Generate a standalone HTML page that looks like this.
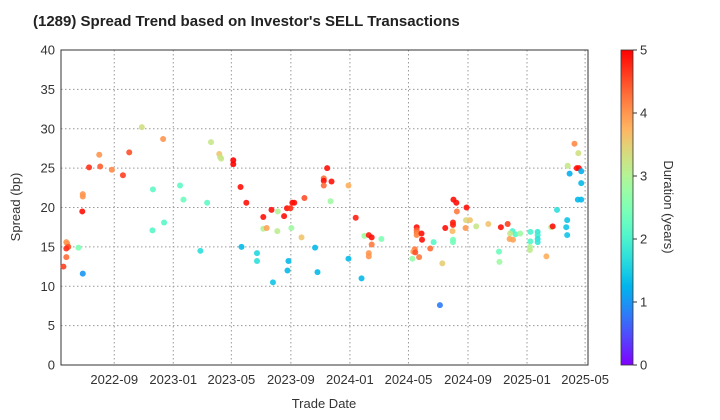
<!DOCTYPE html>
<html><head><meta charset="utf-8"><style>
body{margin:0;background:#fff;font-family:"Liberation Sans",sans-serif}
svg{display:block}
</style></head><body>
<svg id="chart" width="720" height="420">
<defs><linearGradient id="cb" x1="0" y1="1" x2="0" y2="0"></linearGradient></defs>
<text x="33" y="26" font-size="15" font-weight="bold" fill="#222">(1289)   Spread Trend based on Investor's SELL Transactions</text>
<text x="324" y="408" font-size="13" fill="#333" text-anchor="middle">Trade Date</text>
<text transform="translate(20,207) rotate(-90)" font-size="13" fill="#333" text-anchor="middle">Spread (bp)</text>
<text transform="translate(664,207) rotate(90)" font-size="13" fill="#333" text-anchor="middle">Duration (years)</text>
</svg>
<script>
const tradeDays=[57,101,200,217,219,221,31,-31,-52,-29,-5,18,80,136,143,192,-65,-65,-66,103,79,-99,-97,-95,-99,-74,-99,-105,-65,178,246,246,
261,273,325,338,308,351,357,364,368,372,393,440,433,433,433,449,484,447,499,308,315,337,366,387,517,263,295,295,360,358,328,415,420,484,511,
526,532,532,526,526,552,625,625,625,625,635,636,621,618,622,616,630,653,660,678,673,701,707,708,728,700,700,684,699,700,700,727,735,726,748,773,
951,959,937,956,960,941,965,965,958,965,915,936,934,936,903,906,799,813,823,829,818,839,817,824,795,796,860,875,875,875,875,860,859,859,893];
const spreads=[30.2,28.7,28.3,26.8,26.4,26.2,27.0,26.7,25.1,25.2,24.8,24.1,22.3,22.8,21.0,20.6,21.7,21.4,19.5,18.1,17.1,15.6,15.4,15.0,14.8,14.9,13.7,12.5,11.6,14.5,26.0,25.5,
22.6,20.6,19.7,19.5,18.8,18.9,19.9,19.9,20.6,20.6,21.2,25.0,23.7,23.4,22.8,23.3,22.8,20.8,18.7,17.3,17.4,17.0,17.4,16.2,16.4,15.0,14.2,13.2,13.2,12.0,10.5,14.9,11.8,13.5,11.0,
16.5,16.2,15.3,14.2,13.8,16.0,17.5,17.1,16.8,16.5,16.7,15.9,14.7,14.4,14.3,13.5,13.7,14.8,15.6,12.9,7.6,21.0,20.6,19.5,20.0,18.1,17.8,17.4,17.0,15.9,15.6,18.4,18.4,17.4,17.6,17.9,
28.1,26.9,25.3,25.0,25.0,24.3,24.6,23.1,21.0,21.0,19.7,18.4,17.5,16.5,17.5,17.6,17.5,17.9,17.0,16.6,16.7,16.7,16.0,15.9,14.4,13.1,16.9,16.9,16.5,16.0,15.6,15.7,15.0,14.6,13.8];
const durations=[3.3,4.0,3.2,3.6,3.3,3.2,4.5,4.0,4.7,4.4,4.1,4.6,2.2,2.2,2.3,2.2,4.0,4.0,4.9,2.1,2.1,4.0,4.0,4.5,4.7,2.5,4.3,4.6,1.0,1.7,5.0,5.0,
4.9,4.9,4.9,3.0,4.9,4.9,4.9,4.7,4.9,4.9,4.5,4.9,4.3,4.9,4.3,4.9,3.8,2.8,4.8,3.0,3.9,3.1,2.8,3.6,2.8,1.3,1.6,1.7,1.3,1.3,1.4,1.3,1.3,1.3,1.3,
4.8,4.9,4.2,4.0,4.0,2.5,4.9,4.4,4.2,4.1,4.9,4.9,4.2,3.9,4.5,2.7,4.2,4.3,2.1,3.5,0.8,4.9,4.9,4.2,4.9,4.8,4.8,4.9,3.7,2.4,2.4,3.4,3.6,4.0,3.2,3.6,
4.1,3.3,3.2,4.9,4.9,1.2,1.2,1.3,1.3,1.3,1.7,1.4,1.4,1.4,3.0,4.9,4.9,4.6,2.0,2.1,3.2,2.8,3.9,3.9,2.3,2.8,2.0,1.8,1.9,1.7,1.8,2.1,3.0,3.1,3.8];
const xTickDays=[0,122,242,365,487,608,731,853,973];
const xTickLabels=["2022-09","2023-01","2023-05","2023-09","2024-01","2024-05","2024-09","2025-01","2025-05"];
const yTicks=[0,5,10,15,20,25,30,35,40];
const cTicks=[0,1,2,3,4,5];

const L=61,R=588,T=50,B=365;
const xMin=-110,xMax=979,yMin=0,yMax=40;
const xs=d=>L+(d-xMin)/(xMax-xMin)*(R-L);
const ys=v=>B-(v-yMin)/(yMax-yMin)*(B-T);
function cmap(t){t=Math.max(0,Math.min(1,t));
 const r=Math.min(1,Math.abs(2*t-0.5)),g=Math.sin(Math.PI*t),b=Math.cos(Math.PI*t/2);
 return `rgb(${Math.round(r*255)},${Math.round(g*255)},${Math.round(b*255)})`;}
const NS="http://www.w3.org/2000/svg",svg=document.getElementById('chart');
function mk(tag,a,p){const e=document.createElementNS(NS,tag);for(const k in a)e.setAttribute(k,a[k]);(p||svg).appendChild(e);return e;}

const grid=mk('g',{});


yTicks.forEach(v=>{
 const ln=mk('line',{x1:L,x2:R,y1:ys(v),y2:ys(v),stroke:'#999','stroke-dasharray':'1.5,2.5','stroke-width':1},grid);
 
 
 const t=mk('text',{x:L-6,y:ys(v)+4.5,'font-size':13,fill:'#333','text-anchor':'end'});
 
 
 t.textContent=v;
});
xTickDays.forEach((d,i)=>{
 const ln=mk('line',{x1:xs(d),x2:xs(d),y1:T,y2:B,stroke:'#999','stroke-dasharray':'1.5,2.5','stroke-width':1},grid);
 
 
 const t=mk('text',{x:xs(d),y:B+19,'font-size':13,fill:'#333','text-anchor':'middle'});
 
 
 t.textContent=xTickLabels[i];
});
const frame=mk('rect',{x:L,y:T,width:R-L,height:B-T,fill:'none',stroke:'#333','stroke-width':1});



const pts=mk('g',{});


const n=Math.min(tradeDays.length,spreads.length,durations.length);
for(let i=0;i<n;i++){
 const c=mk('circle',{cx:xs(tradeDays[i]),cy:ys(spreads[i]),r:3,fill:cmap(durations[i]/5),'fill-opacity':0.9},pts);
 
 
}

const grad=document.getElementById('cb');
for(let i=0;i<=20;i++){mk('stop',{offset:(i/20),'stop-color':cmap(i/20)},grad);}
const cb=mk('rect',{x:621,y:T,width:12,height:B-T,fill:'url(#cb)',stroke:'#333','stroke-width':0.8});


cTicks.forEach(v=>{
 const y=B-v/5*(B-T);
 mk('line',{x1:633,x2:637,y1:y,y2:y,stroke:'#333'});
 const t=mk('text',{x:640,y:y+4.5,'font-size':13,fill:'#333'});
 
 
 t.textContent=v;
});
</script>
</body></html>
